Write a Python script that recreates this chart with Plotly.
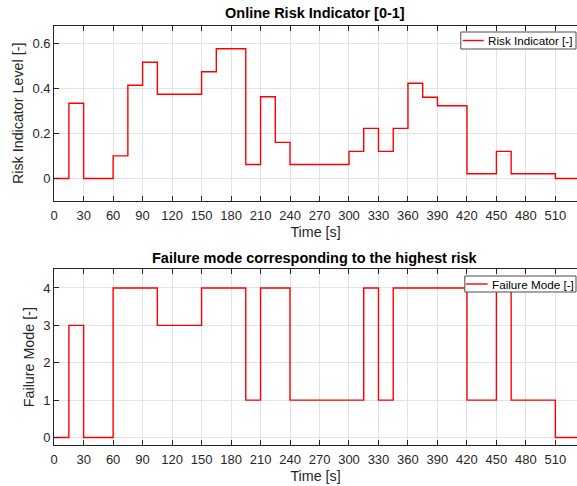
import plotly.graph_objects as go
from plotly.subplots import make_subplots

# Step-change times [s] and risk indicator levels (held until next time)
t_risk = [0, 15, 30, 60, 75, 90, 105, 150, 165, 195, 210, 225, 240, 300,
          315, 330, 345, 360, 375, 390, 420, 450, 465, 510, 532]
risk = [0, 0.333, 0, 0.1, 0.413, 0.515, 0.373, 0.473, 0.575, 0.062, 0.362,
        0.16, 0.062, 0.12, 0.222, 0.12, 0.222, 0.422, 0.36, 0.322, 0.021,
        0.12, 0.021, 0, 0]

# Step-change times [s] and dominant failure mode index
t_fm = [0, 15, 30, 60, 105, 150, 195, 210, 240, 315, 330, 345, 420, 450,
        465, 510, 532]
fm = [0, 3, 0, 4, 3, 4, 1, 4, 1, 4, 1, 4, 1, 4, 1, 0, 0]

x_ticks = list(range(0, 511, 30))
risk_ticks = [0, 0.2, 0.4, 0.6]
fm_ticks = [0, 1, 2, 3, 4]

FONT = "Liberation Sans, Arial, Helvetica, sans-serif"
AX = "#262626"
GRID = "#e3e3e3"
RED = "#ff0000"
W, H = 577, 486

fig = make_subplots(rows=2, cols=1)

fig.add_trace(go.Scatter(x=t_risk, y=risk, mode="lines", line_shape="hv",
                         line=dict(color=RED, width=1.4),
                         name="Risk Indicator [-]", showlegend=False),
              row=1, col=1)
fig.add_trace(go.Scatter(x=t_fm, y=fm, mode="lines", line_shape="hv",
                         line=dict(color=RED, width=1.4),
                         name="Failure Mode [-]", showlegend=False),
              row=2, col=1)


def px_x(p):
    return p / W


def px_y(p):
    return 1 - p / H


axis_common = dict(showline=True, linecolor=AX, linewidth=1, ticks="inside",
                   ticklen=5, tickcolor=AX, showgrid=True, gridcolor=GRID,
                   gridwidth=1, zeroline=False,
                   tickfont=dict(family=FONT, size=13, color=AX))
title_font = dict(family=FONT, size=14.3, color=AX)

for i, (top, bot) in enumerate([(25.7, 201), (269.3, 445)], start=1):
    fig.update_xaxes(domain=[px_x(50.5), 1.0], range=[0, 532],
                     tickvals=x_ticks, mirror="ticks", ticklabelstandoff=2,
                     row=i, col=1,
                     title=dict(text="Time [s]", standoff=5, font=title_font),
                     **axis_common)
    fig.update_yaxes(domain=[px_y(bot), px_y(top)], row=i, col=1,
                     **axis_common)

fig.update_yaxes(range=[-0.1, 0.677], tickvals=risk_ticks,
                 ticktext=["0", "0.2", "0.4", "0.6"],
                 title=dict(text="Risk Indicator Level [-]", standoff=5,
                            font=title_font),
                 row=1, col=1)
fig.update_yaxes(range=[-0.2, 4.5], tickvals=fm_ticks,
                 title=dict(text="Failure Mode [-]", standoff=5,
                            font=title_font),
                 row=2, col=1)

# Legend boxes drawn per subplot (box, line sample, label)
shapes, annotations = [], []
legends = [
    dict(label="Risk Indicator [-]", box=(460, 32, 576, 49), line=(462, 483)),
    dict(label="Failure Mode [-]", box=(464, 276, 576, 292), line=(465, 487)),
]
for lg in legends:
    x0, y0, x1, y1 = lg["box"]
    yc = (y0 + y1) / 2
    shapes.append(dict(type="rect", xref="paper", yref="paper",
                       x0=px_x(x0), x1=px_x(x1), y0=px_y(y1), y1=px_y(y0),
                       fillcolor="white", line=dict(color="#4d4d4d", width=1),
                       layer="above"))
    shapes.append(dict(type="line", xref="paper", yref="paper",
                       x0=px_x(lg["line"][0]), x1=px_x(lg["line"][1]),
                       y0=px_y(yc), y1=px_y(yc),
                       line=dict(color=RED, width=1.4), layer="above"))
    annotations.append(dict(text=lg["label"], xref="paper", yref="paper",
                            x=px_x(lg["line"][1] + 2.5), y=px_y(yc),
                            xanchor="left", yanchor="middle", showarrow=False,
                            font=dict(family=FONT, size=11.7, color="#000000")))

titles = [("Online Risk Indicator [0-1]", 13),
          ("Failure mode corresponding to the highest risk", 258)]
for text, yp in titles:
    annotations.append(dict(text=f"<b>{text}</b>", x=px_x(313.5), y=px_y(yp),
                            xref="paper", yref="paper", showarrow=False,
                            xanchor="center", yanchor="middle",
                            font=dict(family=FONT, size=14.5,
                                      color="#000000")))

fig.update_layout(
    width=W, height=H,
    margin=dict(l=0, r=0, t=0, b=0),
    paper_bgcolor="white", plot_bgcolor="white",
    shapes=shapes, annotations=annotations,
)

fig.write_html("out.html")
